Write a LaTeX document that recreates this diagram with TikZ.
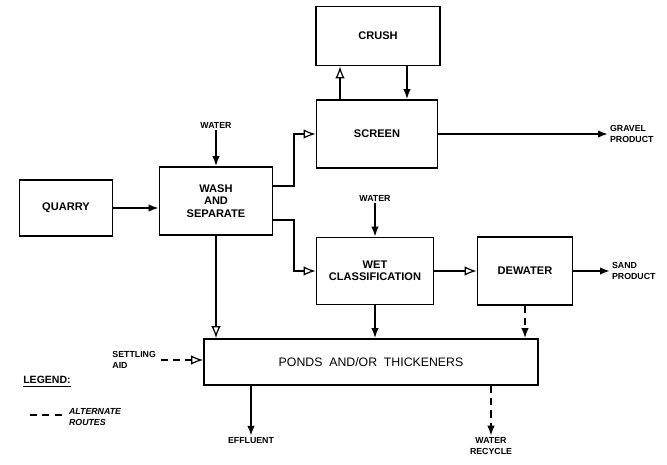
\documentclass[tikz,border=0pt]{standalone}
\usepackage{fontspec}
\setmainfont{Liberation Sans}
\usetikzlibrary{positioning,arrows.meta}

\begin{document}
\begin{tikzpicture}[x=0.02cm,y=-0.02cm,>={Latex[length=2mm,width=1.5mm]},
  box/.style={draw,line width=1pt,align=center,inner sep=1pt,font=\bfseries\fontsize{6.3}{7}\selectfont},
  lbl/.style={inner sep=1pt,align=left,font=\bfseries\fontsize{5}{5.8}\selectfont},
  flow/.style={->,line width=1pt},
  hollow/.style={-{Latex[open,length=2.4mm,width=1.9mm,line width=0.7pt]},line width=1pt},
  alt/.style={dashed,dash pattern=on 4pt off 3pt}]
  \useasboundingbox (0,0) rectangle (667,464);
  \node[box,minimum width=1.86cm,minimum height=1.12cm] (quarry) at (66,208) {QUARRY};
  \node[box,minimum width=2.26cm,minimum height=1.36cm] (wash) at (216,201) {WASH\\AND\\SEPARATE};
  \node[box,minimum width=2.48cm,minimum height=1.18cm] (crush) at (378,36) {CRUSH};
  \node[box,minimum width=2.42cm,minimum height=1.36cm] (screen) at (377,134) {SCREEN};
  \node[box,minimum width=2.34cm,minimum height=1.34cm] (wet) at (375,271) {WET\\CLASSIFICATION};
  \node[box,minimum width=1.9cm,minimum height=1.36cm] (dewater) at (525,271) {DEWATER};
  \node[box,minimum width=6.68cm,minimum height=0.92cm,font=\fontsize{7}{8}\selectfont] (ponds) at (371,362) {PONDS\ \ AND/OR\ \ THICKENERS};
  % inputs and products
  \node[lbl] (watera) at (216,125) {WATER};
  \node[lbl] (waterb) at (375,198) {WATER};
  \node[lbl,anchor=west] (gravel) at (608,134) {GRAVEL\\PRODUCT};
  \node[lbl,anchor=west] (sand) at (610,271) {SAND\\PRODUCT};
  \node[lbl,anchor=east] (settling) at (158,360) {SETTLING\\AID};
  \node[lbl] (effluent) at (251,441) {EFFLUENT};
  \node[lbl,align=center] (recycle) at (491,446) {WATER\\RECYCLE};
  % legend
  \node[lbl,font=\bfseries\fontsize{6}{7}\selectfont] (legend) at (47,382) {\underline{LEGEND:}};
  \node[lbl,anchor=west,font=\bfseries\itshape\fontsize{5}{5.8}\selectfont] (routes) at (67,417) {ALTERNATE\\ROUTES};
  \coordinate (leg) at (30,415);
  \draw[alt,line width=1pt] (leg) -- ([xshift=-0.1cm]routes.west |- leg);
  % connectors
  \draw[flow] (quarry) -- (quarry -| wash.west);
  \draw[flow] (watera) -- (wash);
  \draw[hollow] ([yshift=0.3cm]wash.east) -- ++(21,0) |- (screen);
  \draw[hollow] ([yshift=-0.38cm]wash.east) -- ++(21,0) |- (wet);
  \draw[hollow] ([xshift=-0.74cm]screen.north) -- ([xshift=-0.74cm]screen.north |- crush.south);
  \draw[flow] ([xshift=0.58cm]crush.south) -- ([xshift=0.58cm]crush.south |- screen.north);
  \draw[flow] (screen) -- (gravel);
  \draw[flow] (waterb) -- (wet);
  \draw[hollow] (wet) -- (dewater);
  \draw[flow] (dewater) -- (sand);
  \draw[hollow] (wash.south) -- (wash.south |- ponds.north);
  \draw[flow] (wet.south) -- (wet.south |- ponds.north);
  \draw[flow,alt,line width=1pt] (dewater.south) -- (dewater.south |- ponds.north);
  \draw[hollow,alt] ([xshift=0.05cm]settling.east) -- (settling.east -| ponds.west);
  \draw[flow] (effluent |- ponds.south) -- (effluent);
  \draw[flow,alt] (recycle |- ponds.south) -- (recycle);
\end{tikzpicture}
\end{document}
